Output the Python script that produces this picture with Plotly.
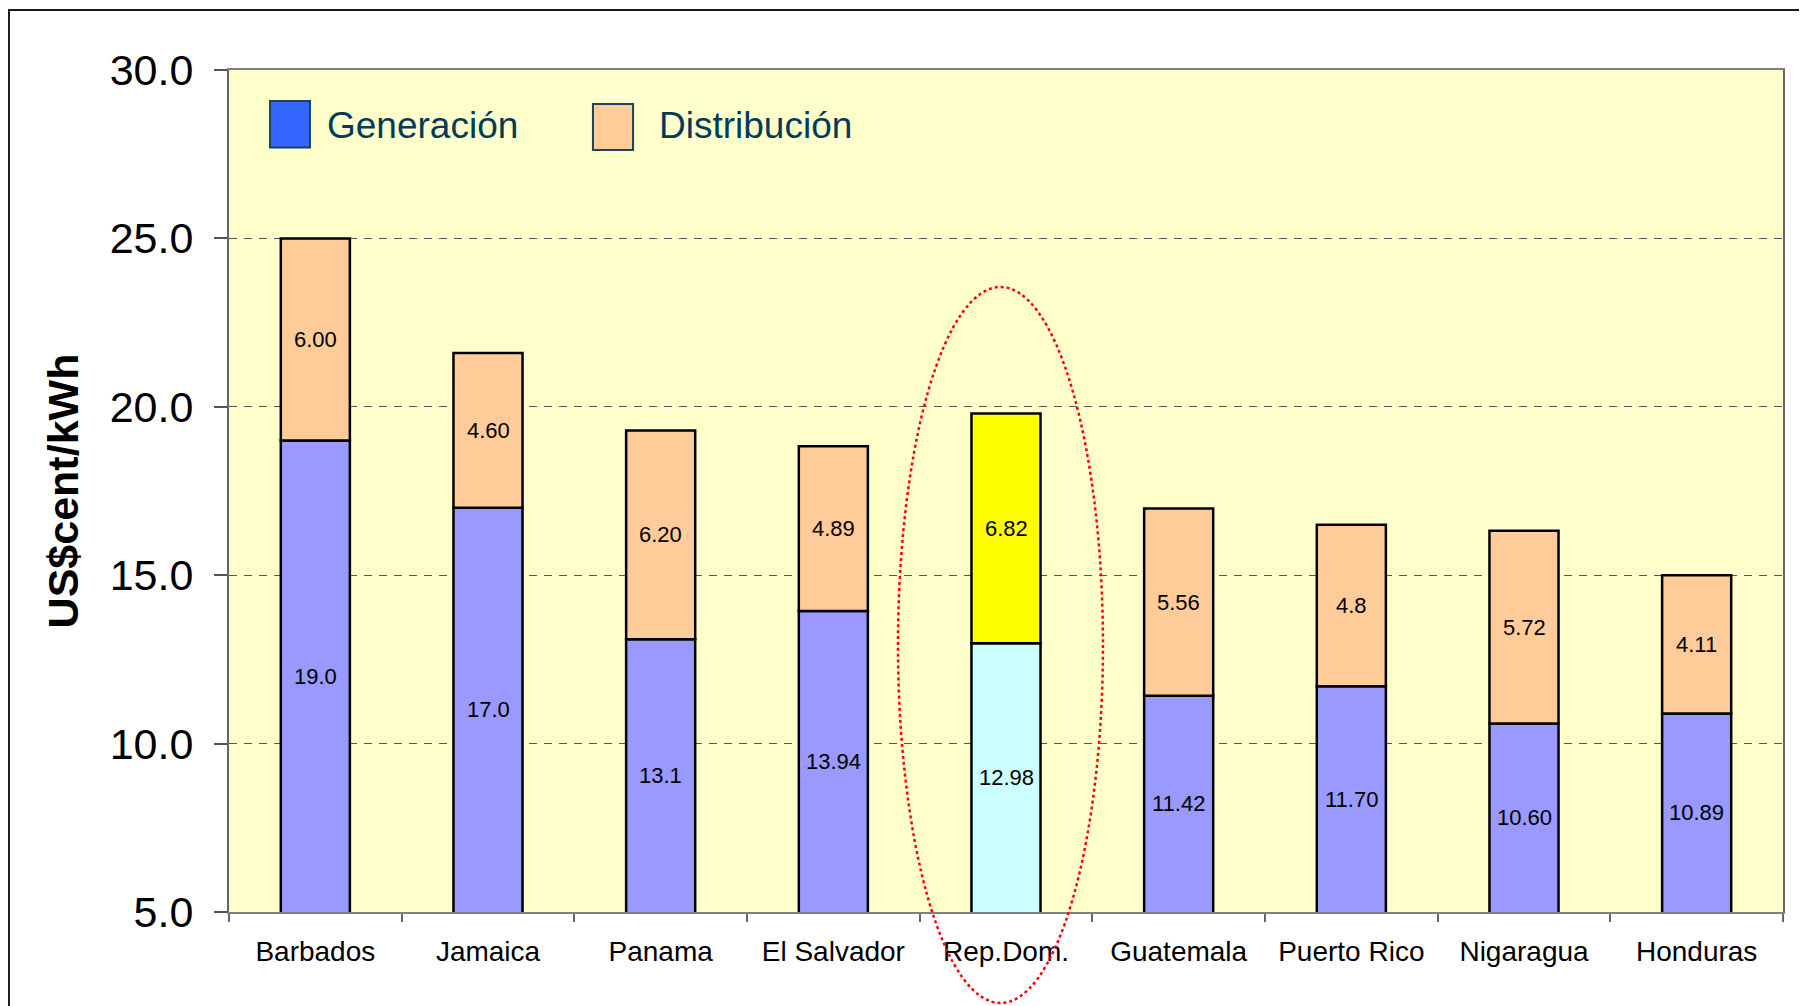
import plotly.graph_objects as go

# ---- data ----
countries = ["Barbados", "Jamaica", "Panama", "El Salvador", "Rep.Dom.",
             "Guatemala", "Puerto Rico", "Nigaragua", "Honduras"]
generacion = [19.0, 17.0, 13.1, 13.94, 12.98, 11.42, 11.70, 10.60, 10.89]
distribucion = [6.00, 4.60, 6.20, 4.89, 6.82, 5.56, 4.8, 5.72, 4.11]
gen_labels = ["19.0", "17.0", "13.1", "13.94", "12.98", "11.42", "11.70", "10.60", "10.89"]
dist_labels = ["6.00", "4.60", "6.20", "4.89", "6.82", "5.56", "4.8", "5.72", "4.11"]
y_ticks = [5, 10, 15, 20, 25, 30]
highlight = "Rep.Dom."

# ---- styles ----
FONT = "Liberation Sans, Arial, sans-serif"
GEN_COLOR, GEN_HL = "#9999FF", "#CCFFFF"
DIST_COLOR, DIST_HL = "#FFCC99", "#FFFF00"
Y_MIN, Y_MAX = 5, 30

gen_colors = [GEN_HL if c == highlight else GEN_COLOR for c in countries]
dist_colors = [DIST_HL if c == highlight else DIST_COLOR for c in countries]

fig = go.Figure()
fig.add_trace(go.Bar(
    x=countries, y=generacion, name="Generación",
    marker=dict(color=gen_colors, line=dict(color="#000000", width=2.5)),
    showlegend=False, hoverinfo="x+y",
))
fig.add_trace(go.Bar(
    x=countries, y=distribucion, base=generacion, name="Distribución",
    marker=dict(color=dist_colors, line=dict(color="#000000", width=2.5)),
    showlegend=False, hoverinfo="x+y",
))

annotations = []
for c, g, d, gl, dl in zip(countries, generacion, distribucion, gen_labels, dist_labels):
    annotations.append(dict(x=c, y=(max(Y_MIN, 0) + g) / 2, text=gl, showarrow=False,
                            xref="x", yref="y", font=dict(family=FONT, size=22, color="#000")))
    annotations.append(dict(x=c, y=g + d / 2, text=dl, showarrow=False,
                            xref="x", yref="y", font=dict(family=FONT, size=22, color="#000")))

# legend (manual, large swatches)
annotations.append(dict(x=0.0618, y=0.9335, xref="paper", yref="paper", xanchor="left",
                        yanchor="middle", text="Generación", showarrow=False,
                        font=dict(family=FONT, size=37, color="#003C5A")))
annotations.append(dict(x=0.2754, y=0.9335, xref="paper", yref="paper", xanchor="left",
                        yanchor="middle", text="Distribución", showarrow=False,
                        font=dict(family=FONT, size=37, color="#003C5A")))

shapes = [
    # legend swatches
    dict(type="rect", xref="paper", yref="paper", x0=0.0264, x1=0.0521, y0=0.908, y1=0.9632,
         fillcolor="#3366FF", line=dict(color="#17455E", width=2)),
    dict(type="rect", xref="paper", yref="paper", x0=0.2342, x1=0.2600, y0=0.905, y1=0.9596,
         fillcolor="#FFCC99", line=dict(color="#17455E", width=2)),
    # highlight ellipse
    dict(type="circle", xref="paper", yref="paper", x0=0.4305, x1=0.5624, y0=-0.1081, y1=0.7423,
         line=dict(color="#FF0000", width=2.5, dash="dot"), layer="above"),
    # outer frame
    dict(type="rect", xref="paper", yref="paper", x0=-0.1416, x1=1.05, y0=-0.2, y1=1.0713,
         line=dict(color="#1a1a1a", width=2), layer="above"),
]

fig.update_layout(
    width=1799, height=998,
    margin=dict(l=221, r=24, t=62, b=94, autoexpand=False),
    paper_bgcolor="#FFFFFF", plot_bgcolor="#FFFFCC",
    barmode="overlay", bargap=0.6,
    font=dict(family=FONT, color="#000"),
    annotations=annotations, shapes=shapes,
    xaxis=dict(
        type="category", range=[-0.5, len(countries) - 0.5],
        showline=True, linecolor="#808080", linewidth=2, mirror=True,
        ticks="outside", tickson="boundaries", ticklen=8, tickcolor="#666666", tickwidth=1.5,
        showgrid=False, tickfont=dict(family=FONT, size=28, color="#000"),
        ticklabelstandoff=13,
    ),
    yaxis=dict(
        range=[Y_MIN, Y_MAX], tickvals=y_ticks, tickformat=".1f",
        showline=True, linecolor="#666666", linewidth=2, mirror=True,
        ticks="outside", ticklen=13, tickcolor="#555555", tickwidth=1.5,
        showgrid=True, gridcolor="#555555", gridwidth=1.3, griddash="8px,7px",
        zeroline=False,
        tickfont=dict(family=FONT, size=43, color="#000"),
        ticklabelstandoff=12,
        title=dict(text="<b>US$cent/kWh</b>", font=dict(family=FONT, size=43, color="#000"),
                   standoff=18),
    ),
)

fig.write_html("out.html")
